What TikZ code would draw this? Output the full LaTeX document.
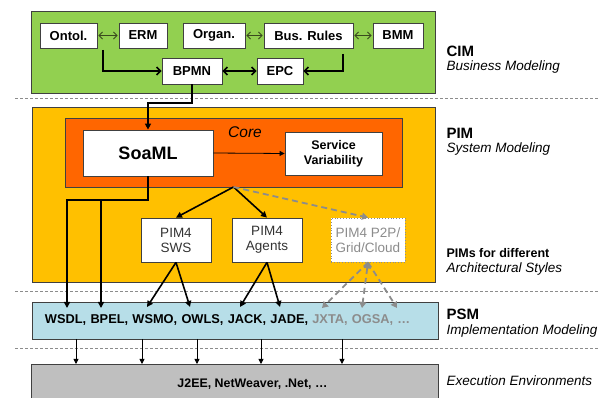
\documentclass[tikz,border=0pt]{standalone}
\usepackage{fontspec}
\setmainfont{Liberation Sans}
\usepackage{tikz}
\usetikzlibrary{
    arrows.meta,
    calc
}
\definecolor{verdecim}{HTML}{92D050}
\definecolor{naranjapim}{HTML}{FFC000}
\definecolor{naranjacore}{HTML}{FF6600}
\definecolor{azulpsm}{HTML}{B7DEE8}
\definecolor{grisexe}{HTML}{BFBFBF}
\definecolor{borde}{HTML}{404040}
\definecolor{flechacim}{HTML}{3A4A1E}
\definecolor{grisfl}{HTML}{8C8C8C}
\definecolor{textopim}{HTML}{333333}
\tikzset{
    >=Stealth,
    capa/.style={
        draw=borde,
        line width=0.8pt,
        inner sep=0pt,
        outer sep=0pt
    },
    caja/.style={
        draw=borde,
        fill=white,
        line width=0.8pt,
        inner sep=0pt,
        font=\bfseries\fontsize{13}{15}\selectfont
    },
    cajapim/.style={
        caja,
        align=center,
        minimum width=70,
        minimum height=44,
        text=textopim,
        font=\fontsize{13.5}{15}\selectfont
    },
    nivel/.style={
        anchor=base west,
        font=\bfseries\fontsize{15}{17}\selectfont
    },
    nivelsub/.style={
        anchor=base west,
        font=\itshape\fontsize{13.5}{16}\selectfont
    },
    separador/.style={
        draw=grisfl,
        line width=0.8pt,
        dash pattern=on 3pt off 2pt
    },
    finocim/.style={
        draw=flechacim,
        line width=0.9pt,
        {Straight Barb[length=3.5pt,width=7pt]}-{Straight Barb[length=3.5pt,width=7pt]},
        shorten <=1pt,
        shorten >=1pt
    },
    gruesocim/.style={
        line width=1.5pt,
        -{Straight Barb[length=4pt,width=8pt]}
    },
    gruesocimdoble/.style={
        line width=1.5pt,
        {Straight Barb[length=4pt,width=8pt]}-{Straight Barb[length=4pt,width=8pt]}
    },
    grueso/.style={
        line width=1.6pt,
        -{Triangle[length=6pt,width=6pt]}
    },
    fino/.style={
        line width=0.8pt,
        -{Triangle[length=5pt,width=5pt]}
    },
    discont/.style={
        draw=grisfl,
        line width=1.8pt,
        dash pattern=on 6pt off 4pt,
        -{Triangle[length=6pt,width=7pt]}
    }
}

\begin{document}
\begin{tikzpicture}[
    x=1pt,
    y=-1pt
]
    \useasboundingbox (0,0) rectangle (598,398);

    % Separadores
    \foreach \y in {98,291,348}
        \draw[separador] (15,\y) -- (598,\y);

    % Capas
    \node[capa, fill=verdecim, minimum width=404, minimum height=82]  (cim)  at (233,52)      {};
    \node[capa, fill=naranjapim, minimum width=403, minimum height=175] (pim) at (233.5,194.5) {};
    \node[capa, fill=naranjacore, minimum width=337, minimum height=69] (core) at (233.5,152.5) {};
    \node[capa, fill=azulpsm, minimum width=406, minimum height=37,
          inner xsep=13, text width=380, align=left,
          font=\bfseries\fontsize{12.8}{15}\selectfont] (psm) at (235,320.5)
        {WSDL, BPEL, WSMO, OWLS, JACK, JADE, \textcolor{grisfl}{JXTA, OGSA, …}};
    \node[capa, fill=grisexe, minimum width=407, minimum height=38]   (exe)  at (234.5,383)   {};
    \node[font=\bfseries\fontsize{12.4}{15}\selectfont] (exetxt) at (252.5,384)
        {J2EE, NetWeaver, .Net, …};

    % Modelos CIM
    \node[caja, minimum width=57, minimum height=25] (ontol) at (68.5,35.5) {Ontol.};
    \node[caja, minimum width=48, minimum height=25] (erm)   at (143,35.5)  {ERM};
    \node[caja, minimum width=62, minimum height=25] (organ) at (214,35.5)  {Organ.};
    \node[caja, minimum width=89, minimum height=25] (rules) at (308.5,35.5) {Bus. Rules};
    \node[caja, minimum width=50, minimum height=25] (bmm)   at (398,35.5)  {BMM};
    \node[caja, minimum width=60, minimum height=26] (bpmn)  at (192,71)    {BPMN};
    \node[caja, minimum width=46, minimum height=26] (epc)   at (280,71)    {EPC};

    % Modelos PIM
    \node[font=\itshape\fontsize{15.5}{17}\selectfont] (corelbl) at (245,132) {Core};
    \node[caja, minimum width=130, minimum height=46,
          font=\bfseries\fontsize{18}{20}\selectfont] (soaml) at (148,153) {SoaML};
    \node[caja, minimum width=97, minimum height=43, align=center,
          font=\bfseries\fontsize{12.5}{15}\selectfont] (servar) at (333.5,153.5)
        {Service\\Variability};
    \node[cajapim]                     (sws)    at (176,240) {PIM4\\SWS};
    \node[cajapim]                     (agents) at (267,240) {PIM4\\Agents};
    \node[cajapim, minimum width=74, draw=grisfl, dotted, text=grisfl]
                                       (ptp)    at (368,240) {PIM4 P2P/\\Grid/Cloud};

    % Niveles
    \node[nivel]    (cimlbl)  at (443,57)    {CIM};
    \node[nivelsub] (cimsub)  at (443,71)    {Business Modeling};
    \node[nivel]    (pimlbl)  at (443,138.5) {PIM};
    \node[nivelsub] (pimsub)  at (443,153)   {System Modeling};
    \node[nivel, font=\bfseries\fontsize{12.5}{15}\selectfont]
                    (stylbl)  at (443,257.5) {PIMs for different};
    \node[nivelsub] (stysub)  at (443,273)   {Architectural Styles};
    \node[nivel]    (psmlbl)  at (443,319.5) {PSM};
    \node[nivelsub] (psmsub)  at (443,335)   {Implementation Modeling};
    \node[nivelsub] (exelbl)  at (443,386)   {Execution Environments};

    % Puntos de llegada en PSM
    \coordinate (wsdl) at (67,308);
    \coordinate (bpel) at (101,308);
    \coordinate (wsmo) at (147,307);
    \coordinate (owls) at (190,307);
    \coordinate (jack) at (240,307);
    \coordinate (jade) at (280,307);
    \coordinate (jxta) at (322,308);
    \coordinate (ogsa) at (362,308);
    \coordinate (etc)  at (397,308);

    % Codos
    \coordinate (o1) at (103,50);
    \coordinate (r1) at (343,54);
    \coordinate (b1) at (148,103);
    \coordinate (f1) at (67,200);
    \coordinate (f2) at (101,200);

    % Relaciones CIM
    \draw[finocim] (ontol) -- (erm);
    \draw[finocim] (organ) -- (rules);
    \draw[finocim] (rules) -- (bmm);
    \draw[gruesocim] (o1) |- (bpmn.west);
    \draw[gruesocim] (r1) |- (epc.east);
    \draw[gruesocimdoble] (bpmn) -- (epc);

    % CIM -> PIM
    \draw[grueso] (bpmn.south) |- (b1) -- (soaml.north);
    \draw[fino] (soaml.east) -- (servar.west);
    \draw[grueso] (core.south) -- (sws.north);
    \draw[grueso] (core.south) -- (agents.north);
    \draw[discont] (core.south) -- (ptp.north);

    % PIM -> PSM
    \draw[grueso] (soaml.south) |- (f1) -- (wsdl);
    \draw[grueso] (f2) -- (bpel);
    \draw[grueso] (sws.south) -- (wsmo);
    \draw[grueso] (sws.south) -- (owls);
    \draw[grueso] (agents.south) -- (jack);
    \draw[grueso] (agents.south) -- (jade);
    \draw[discont] (ptp.south) -- (jxta);
    \draw[discont, {Triangle[length=6pt,width=7pt]}-{Triangle[length=6pt,width=7pt]}]
        (ptp.south) -- (ogsa);
    \draw[discont] (ptp.south) -- (etc);

    % PSM -> plataformas
    \foreach \x [count=\i] in {76,142,197,261,342} {
        \coordinate (e\i) at (\x,0);
        \draw[fino] (e\i |- psm.south) -- (e\i |- exe.north);
    }

\end{tikzpicture}
\end{document}
